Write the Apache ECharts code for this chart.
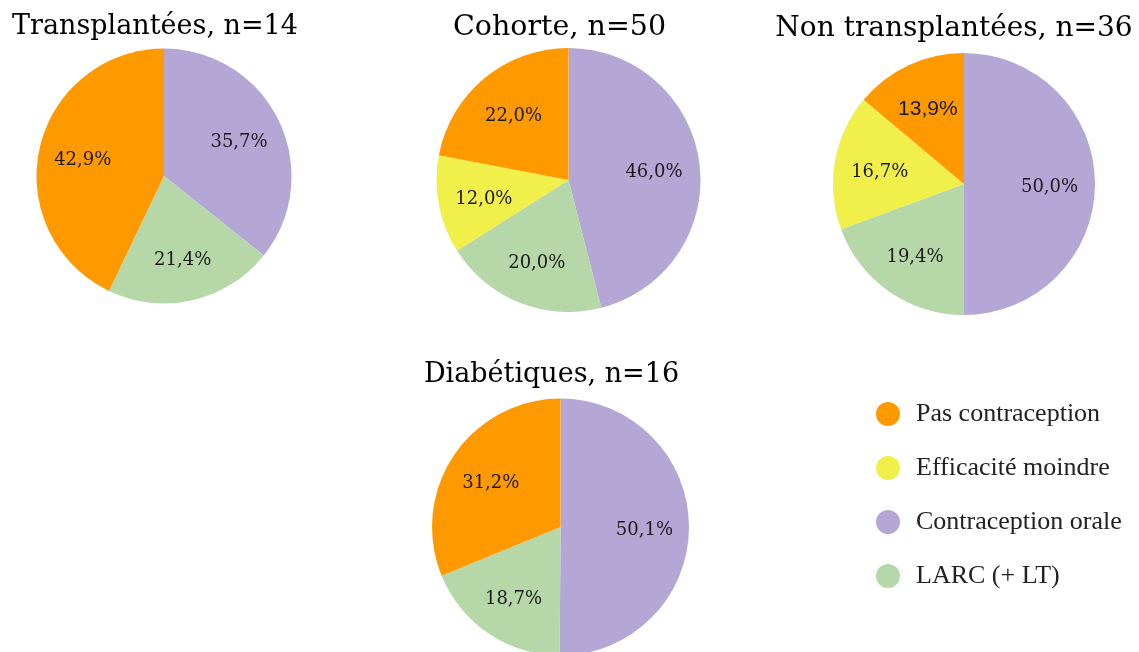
<!DOCTYPE html>
<html>
<head>
<meta charset="utf-8">
<script src="https://cdn.jsdelivr.net/npm/echarts@6/dist/echarts.min.js"></script>
<style>
html,body{margin:0;padding:0;background:#fff;}
#chart{width:1139px;height:652px;}
</style>
</head>
<body>
<div id="chart"></div>
<script>
// Slice order, clockwise from 12 o'clock
const categories = ['Contraception orale', 'LARC (+ LT)', 'Efficacité moindre', 'Pas contraception'];
const legendOrder = ['Pas contraception', 'Efficacité moindre', 'Contraception orale', 'LARC (+ LT)'];
const titles = ['Transplantées, n=14', 'Cohorte, n=50', 'Non transplantées, n=36', 'Diabétiques, n=16'];
const transplantees = [35.7, 21.4, 0, 42.9];
const cohorte = [46.0, 20.0, 12.0, 22.0];
const nonTransplantees = [50.0, 19.4, 16.7, 13.9];
const diabetiques = [50.1, 18.7, 0, 31.2];

const pieValues = [transplantees, cohorte, nonTransplantees, diabetiques];

// Layout / style (kept separate from data)
const colors = {
  'Pas contraception': '#ff9900',
  'Efficacité moindre': '#f1ef4a',
  'Contraception orale': '#b4a7d6',
  'LARC (+ LT)': '#b6d7a8'
};
const centers = [[164, 176], [568.5, 180], [964, 184], [560.5, 527]];
const radii = [127.5, 132, 131, 128.5];
const titlePos = [[155, 27], [559.5, 28], [954, 29], [551.5, 375]];
const titleSizes = [27, 28.5, 28, 27];
const labelRatio = 1.26;
const labelOverrides = { 2: { 3: { fontFamily: 'Liberation Sans', fontSize: 21 } } };

const chart = echarts.init(document.getElementById('chart'));
const series = [];
pieValues.forEach(function (vals, i) {
  const dataVis = categories.map(function (c, k) {
    return { name: c, value: vals[k], itemStyle: { color: colors[c] } };
  });
  series.push({
    type: 'pie',
    center: centers[i],
    radius: [0, radii[i]],
    startAngle: 90,
    clockwise: true,
    animation: false,
    silent: true,
    label: { show: false },
    labelLine: { show: false },
    itemStyle: { borderWidth: 0 },
    data: dataVis
  });
  const dataLab = categories.map(function (c, k) {
    const item = { name: c, value: vals[k], itemStyle: { color: 'rgba(0,0,0,0)' } };
    if (labelOverrides[i] && labelOverrides[i][k]) item.label = labelOverrides[i][k];
    return item;
  });
  series.push({
    type: 'pie',
    center: centers[i],
    radius: [0, radii[i] * labelRatio],
    startAngle: 90,
    clockwise: true,
    animation: false,
    silent: true,
    avoidLabelOverlap: false,
    labelLine: { show: false },
    itemStyle: { borderWidth: 0, color: 'rgba(0,0,0,0)' },
    label: {
      show: true,
      position: 'inside',
      offset: [0, 3],
      fontFamily: 'DejaVu Serif',
      fontSize: 18,
      color: '#1a1a1a',
      formatter: function (p) {
        if (!p.value) return '';
        return p.value.toFixed(1).replace('.', ',') + '%';
      }
    },
    data: dataLab
  });
});

const graphics = titles.map(function (t, i) {
  return {
    type: 'text',
    x: titlePos[i][0],
    y: titlePos[i][1],
    style: {
      text: t,
      fill: '#000',
      font: titleSizes[i] + 'px "DejaVu Serif"',
      textAlign: 'center',
      textVerticalAlign: 'middle'
    }
  };
});

chart.setOption({
  backgroundColor: '#fff',
  animation: false,
  legend: {
    data: legendOrder,
    orient: 'vertical',
    left: 876,
    top: 401,
    padding: 0,
    icon: 'circle',
    itemWidth: 24,
    itemHeight: 24,
    itemGap: 28,
    selectedMode: false,
    textStyle: {
      fontFamily: 'Liberation Serif',
      fontSize: 26,
      lineHeight: 24,
      color: '#222',
      padding: [0, 0, 0, 11]
    }
  },
  graphic: graphics,
  series: series
});
</script>
</body>
</html>
